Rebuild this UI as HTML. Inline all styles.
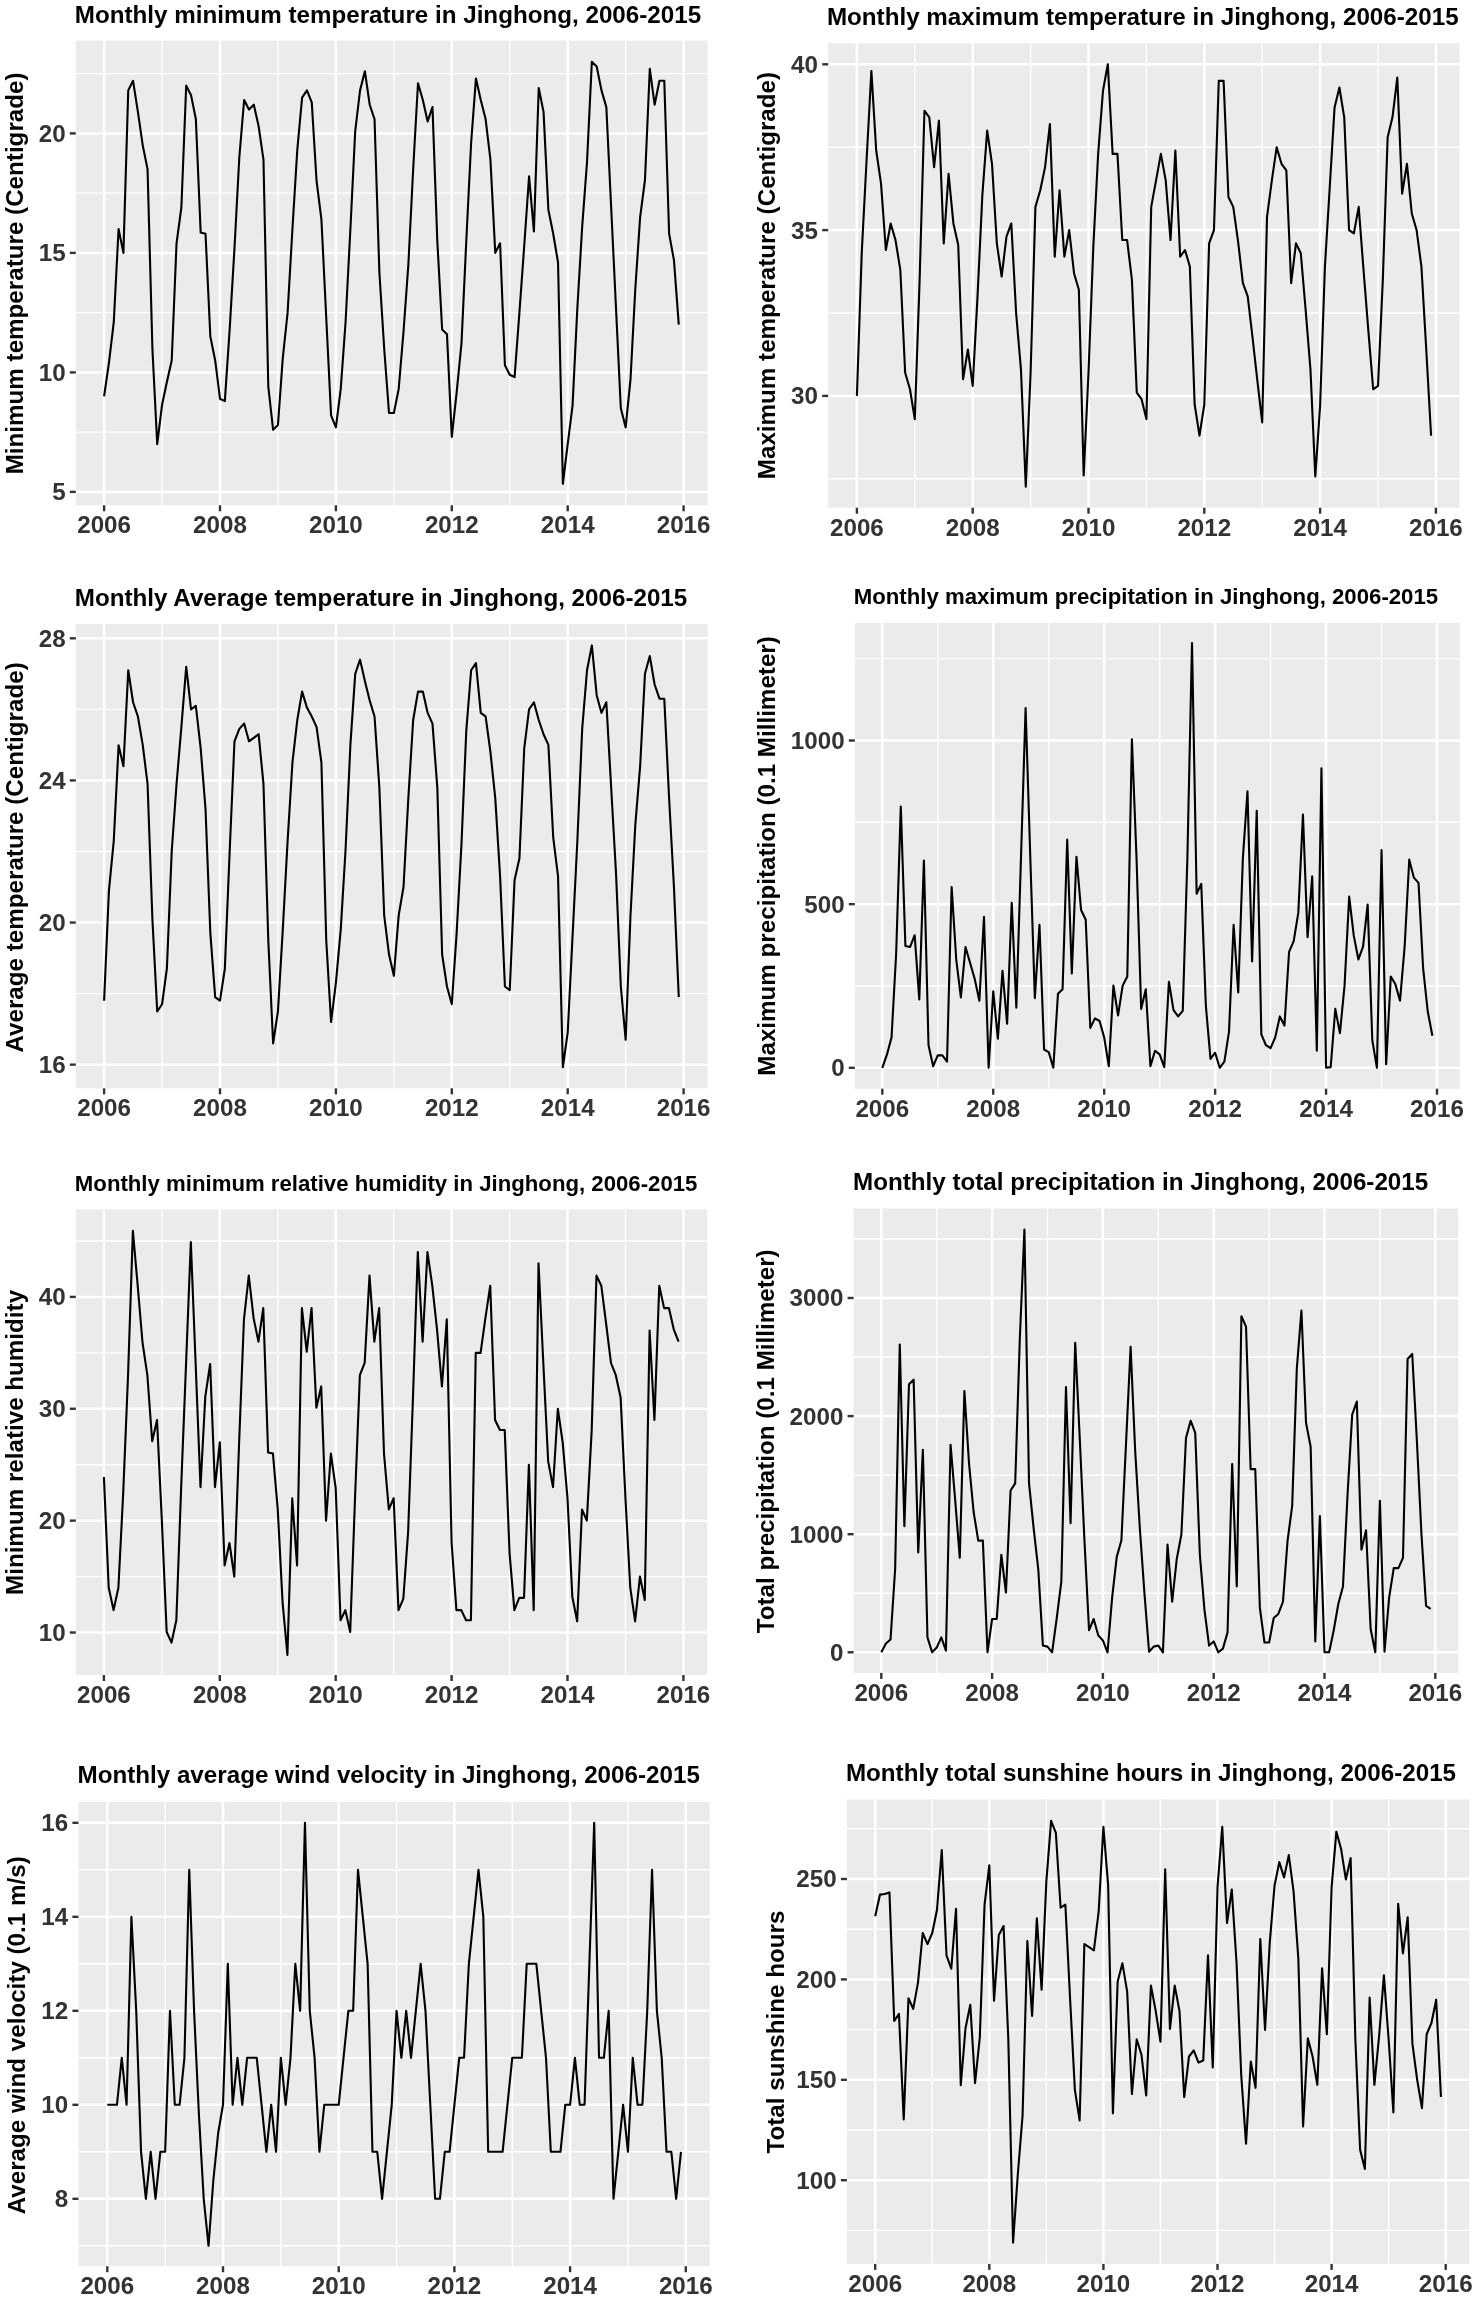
<!DOCTYPE html>
<html><head><meta charset="utf-8"><style>
html,body{margin:0;padding:0;background:#fff;}
svg{display:block;will-change:transform;}
text{font-family:"Liberation Sans",sans-serif;font-weight:bold;}
.tk{font-size:24.2px;fill:#333;}
.ti{fill:#000;}
.yl{font-size:24.2px;fill:#000;}
.gm{stroke:#fff;stroke-width:1.4;}
.gM{stroke:#fff;stroke-width:2.5;}
.tm{stroke:#333;stroke-width:2.4;}
.ln{fill:none;stroke:#000;stroke-width:2.1;stroke-linejoin:round;stroke-linecap:butt;}
</style></head><body>
<svg width="1478" height="2300" viewBox="0 0 1478 2300">
<rect width="1478" height="2300" fill="#fff"/>
<rect x="75.80" y="40.60" width="631.80" height="464.70" fill="#EBEBEB"/>
<line x1="75.80" x2="707.60" y1="432.15" y2="432.15" class="gm"/>
<line x1="75.80" x2="707.60" y1="312.65" y2="312.65" class="gm"/>
<line x1="75.80" x2="707.60" y1="193.15" y2="193.15" class="gm"/>
<line x1="75.80" x2="707.60" y1="73.65" y2="73.65" class="gm"/>
<line x1="162.05" x2="162.05" y1="40.60" y2="505.30" class="gm"/>
<line x1="277.95" x2="277.95" y1="40.60" y2="505.30" class="gm"/>
<line x1="393.85" x2="393.85" y1="40.60" y2="505.30" class="gm"/>
<line x1="509.75" x2="509.75" y1="40.60" y2="505.30" class="gm"/>
<line x1="625.65" x2="625.65" y1="40.60" y2="505.30" class="gm"/>
<line x1="75.80" x2="707.60" y1="491.90" y2="491.90" class="gM"/>
<line x1="75.80" x2="707.60" y1="372.40" y2="372.40" class="gM"/>
<line x1="75.80" x2="707.60" y1="252.90" y2="252.90" class="gM"/>
<line x1="75.80" x2="707.60" y1="133.40" y2="133.40" class="gM"/>
<line x1="104.10" x2="104.10" y1="40.60" y2="505.30" class="gM"/>
<line x1="220.00" x2="220.00" y1="40.60" y2="505.30" class="gM"/>
<line x1="335.90" x2="335.90" y1="40.60" y2="505.30" class="gM"/>
<line x1="451.80" x2="451.80" y1="40.60" y2="505.30" class="gM"/>
<line x1="567.70" x2="567.70" y1="40.60" y2="505.30" class="gM"/>
<line x1="683.60" x2="683.60" y1="40.60" y2="505.30" class="gM"/>
<polyline points="104.10,396.30 108.93,362.84 113.76,322.21 118.59,229.00 123.42,252.90 128.25,90.38 133.07,80.82 137.90,111.89 142.73,145.35 147.56,169.25 152.39,348.50 157.22,444.10 162.05,404.90 166.88,381.96 171.71,360.45 176.54,243.34 181.37,207.49 186.20,85.60 191.03,95.16 195.85,119.06 200.68,232.59 205.51,233.78 210.34,336.55 215.17,360.45 220.00,398.69 224.83,401.08 229.66,329.38 234.49,248.12 239.32,157.30 244.15,99.94 248.97,109.50 253.80,104.72 258.63,126.23 263.46,159.69 268.29,386.74 273.12,429.76 277.95,424.98 282.78,358.06 287.61,312.65 292.44,229.00 297.27,150.13 302.10,97.55 306.93,90.38 311.75,102.33 316.58,181.20 321.41,219.44 326.24,317.43 331.07,415.42 335.90,427.37 340.73,389.13 345.56,322.21 350.39,229.00 355.22,131.01 360.05,90.38 364.88,71.26 369.70,104.72 374.53,119.06 379.36,272.02 384.19,348.50 389.02,413.03 393.85,413.03 398.68,389.13 403.51,331.77 408.34,264.85 413.17,169.25 418.00,83.21 422.83,99.94 427.65,121.45 432.48,107.11 437.31,240.95 442.14,329.38 446.97,334.16 451.80,436.93 456.63,392.72 461.46,343.72 466.29,240.95 471.12,142.96 475.95,78.43 480.77,99.94 485.60,119.06 490.43,159.69 495.26,252.90 500.09,243.34 504.92,365.23 509.75,374.79 514.58,377.18 519.41,312.65 524.24,245.73 529.07,176.42 533.90,231.39 538.73,87.99 543.55,111.89 548.38,209.88 553.21,233.78 558.04,262.46 562.87,483.77 567.70,444.10 572.53,405.86 577.36,307.87 582.19,226.61 587.02,162.08 591.85,61.70 596.68,66.48 601.50,90.38 606.33,107.11 611.16,207.49 615.99,307.87 620.82,408.25 625.65,427.37 630.48,379.57 635.31,288.75 640.14,217.05 644.97,180.00 649.80,68.87 654.62,104.72 659.45,80.82 664.28,80.82 669.11,233.78 673.94,260.07 678.77,324.60" class="ln"/>
<line x1="104.10" x2="104.10" y1="505.30" y2="511.30" class="tm"/>
<text x="104.10" y="533.30" text-anchor="middle" class="tk">2006</text>
<line x1="220.00" x2="220.00" y1="505.30" y2="511.30" class="tm"/>
<text x="220.00" y="533.30" text-anchor="middle" class="tk">2008</text>
<line x1="335.90" x2="335.90" y1="505.30" y2="511.30" class="tm"/>
<text x="335.90" y="533.30" text-anchor="middle" class="tk">2010</text>
<line x1="451.80" x2="451.80" y1="505.30" y2="511.30" class="tm"/>
<text x="451.80" y="533.30" text-anchor="middle" class="tk">2012</text>
<line x1="567.70" x2="567.70" y1="505.30" y2="511.30" class="tm"/>
<text x="567.70" y="533.30" text-anchor="middle" class="tk">2014</text>
<line x1="683.60" x2="683.60" y1="505.30" y2="511.30" class="tm"/>
<text x="683.60" y="533.30" text-anchor="middle" class="tk">2016</text>
<line x1="69.80" x2="75.80" y1="491.90" y2="491.90" class="tm"/>
<text x="65.60" y="500.37" text-anchor="end" class="tk">5</text>
<line x1="69.80" x2="75.80" y1="372.40" y2="372.40" class="tm"/>
<text x="65.60" y="380.87" text-anchor="end" class="tk">10</text>
<line x1="69.80" x2="75.80" y1="252.90" y2="252.90" class="tm"/>
<text x="65.60" y="261.37" text-anchor="end" class="tk">15</text>
<line x1="69.80" x2="75.80" y1="133.40" y2="133.40" class="tm"/>
<text x="65.60" y="141.87" text-anchor="end" class="tk">20</text>
<text x="74.81" y="22.50" class="ti" style="font-size:24.2px">Monthly minimum temperature in Jinghong, 2006-2015</text>
<text transform="translate(22.80,474.29) rotate(-90)" class="yl">Minimum temperature (Centigrade)</text>
<rect x="828.20" y="43.30" width="631.20" height="464.40" fill="#EBEBEB"/>
<line x1="828.20" x2="1459.40" y1="478.80" y2="478.80" class="gm"/>
<line x1="828.20" x2="1459.40" y1="313.00" y2="313.00" class="gm"/>
<line x1="828.20" x2="1459.40" y1="147.20" y2="147.20" class="gm"/>
<line x1="914.80" x2="914.80" y1="43.30" y2="507.70" class="gm"/>
<line x1="1030.60" x2="1030.60" y1="43.30" y2="507.70" class="gm"/>
<line x1="1146.40" x2="1146.40" y1="43.30" y2="507.70" class="gm"/>
<line x1="1262.20" x2="1262.20" y1="43.30" y2="507.70" class="gm"/>
<line x1="1378.00" x2="1378.00" y1="43.30" y2="507.70" class="gm"/>
<line x1="828.20" x2="1459.40" y1="395.90" y2="395.90" class="gM"/>
<line x1="828.20" x2="1459.40" y1="230.10" y2="230.10" class="gM"/>
<line x1="828.20" x2="1459.40" y1="64.30" y2="64.30" class="gM"/>
<line x1="856.90" x2="856.90" y1="43.30" y2="507.70" class="gM"/>
<line x1="972.70" x2="972.70" y1="43.30" y2="507.70" class="gM"/>
<line x1="1088.50" x2="1088.50" y1="43.30" y2="507.70" class="gM"/>
<line x1="1204.30" x2="1204.30" y1="43.30" y2="507.70" class="gM"/>
<line x1="1320.10" x2="1320.10" y1="43.30" y2="507.70" class="gM"/>
<line x1="1435.90" x2="1435.90" y1="43.30" y2="507.70" class="gM"/>
<polyline points="856.90,395.90 861.72,253.31 866.55,160.46 871.38,70.93 876.20,150.52 881.03,183.68 885.85,250.00 890.67,223.47 895.50,240.05 900.32,269.89 905.15,372.69 909.98,389.27 914.80,419.11 919.62,279.84 924.45,110.72 929.27,117.36 934.10,167.10 938.93,120.67 943.75,243.36 948.57,173.73 953.40,223.47 958.23,245.02 963.05,379.32 967.88,349.48 972.70,385.95 977.52,296.42 982.35,195.28 987.17,130.62 992.00,163.78 996.83,243.36 1001.65,276.52 1006.47,236.73 1011.30,223.47 1016.12,313.00 1020.95,369.37 1025.78,486.76 1030.60,372.69 1035.42,206.89 1040.25,190.31 1045.08,167.10 1049.90,123.99 1054.73,256.63 1059.55,190.31 1064.37,256.63 1069.20,230.10 1074.03,273.21 1078.85,289.79 1083.68,475.48 1088.50,372.69 1093.32,246.68 1098.15,153.83 1102.97,90.83 1107.80,64.30 1112.63,153.83 1117.45,153.83 1122.27,240.05 1127.10,240.05 1131.92,279.84 1136.75,392.58 1141.58,399.22 1146.40,419.11 1151.22,206.89 1156.05,180.36 1160.88,153.83 1165.70,180.36 1170.53,240.05 1175.35,150.52 1180.17,256.63 1185.00,250.00 1189.83,266.58 1194.65,404.52 1199.48,435.69 1204.30,404.52 1209.12,243.36 1213.95,230.10 1218.78,80.88 1223.60,80.88 1228.43,196.94 1233.25,206.89 1238.07,241.37 1242.90,283.16 1247.72,296.42 1252.55,337.54 1257.38,380.98 1262.20,422.43 1267.02,216.84 1271.85,180.36 1276.67,147.20 1281.50,163.78 1286.33,170.41 1291.15,283.16 1295.97,243.36 1300.80,253.31 1305.62,309.68 1310.45,369.37 1315.28,476.48 1320.10,405.85 1324.92,266.58 1329.75,186.99 1334.58,107.41 1339.40,87.51 1344.23,117.36 1349.05,230.10 1353.87,233.42 1358.70,206.89 1363.53,269.89 1368.35,330.57 1373.18,389.27 1378.00,385.95 1382.82,279.84 1387.65,137.25 1392.47,117.36 1397.30,77.56 1402.13,193.62 1406.95,163.78 1411.77,213.52 1416.60,230.10 1421.42,266.58 1426.25,349.48 1431.08,435.69" class="ln"/>
<line x1="856.90" x2="856.90" y1="507.70" y2="513.70" class="tm"/>
<text x="856.90" y="535.70" text-anchor="middle" class="tk">2006</text>
<line x1="972.70" x2="972.70" y1="507.70" y2="513.70" class="tm"/>
<text x="972.70" y="535.70" text-anchor="middle" class="tk">2008</text>
<line x1="1088.50" x2="1088.50" y1="507.70" y2="513.70" class="tm"/>
<text x="1088.50" y="535.70" text-anchor="middle" class="tk">2010</text>
<line x1="1204.30" x2="1204.30" y1="507.70" y2="513.70" class="tm"/>
<text x="1204.30" y="535.70" text-anchor="middle" class="tk">2012</text>
<line x1="1320.10" x2="1320.10" y1="507.70" y2="513.70" class="tm"/>
<text x="1320.10" y="535.70" text-anchor="middle" class="tk">2014</text>
<line x1="1435.90" x2="1435.90" y1="507.70" y2="513.70" class="tm"/>
<text x="1435.90" y="535.70" text-anchor="middle" class="tk">2016</text>
<line x1="822.20" x2="828.20" y1="395.90" y2="395.90" class="tm"/>
<text x="818.00" y="404.37" text-anchor="end" class="tk">30</text>
<line x1="822.20" x2="828.20" y1="230.10" y2="230.10" class="tm"/>
<text x="818.00" y="238.57" text-anchor="end" class="tk">35</text>
<line x1="822.20" x2="828.20" y1="64.30" y2="64.30" class="tm"/>
<text x="818.00" y="72.77" text-anchor="end" class="tk">40</text>
<text x="826.91" y="25.30" class="ti" style="font-size:24.2px">Monthly maximum temperature in Jinghong, 2006-2015</text>
<text transform="translate(775.00,479.19) rotate(-90)" class="yl">Maximum temperature (Centigrade)</text>
<rect x="75.80" y="624.10" width="631.80" height="464.20" fill="#EBEBEB"/>
<line x1="75.80" x2="707.60" y1="993.60" y2="993.60" class="gm"/>
<line x1="75.80" x2="707.60" y1="851.48" y2="851.48" class="gm"/>
<line x1="75.80" x2="707.60" y1="709.36" y2="709.36" class="gm"/>
<line x1="162.05" x2="162.05" y1="624.10" y2="1088.30" class="gm"/>
<line x1="277.95" x2="277.95" y1="624.10" y2="1088.30" class="gm"/>
<line x1="393.85" x2="393.85" y1="624.10" y2="1088.30" class="gm"/>
<line x1="509.75" x2="509.75" y1="624.10" y2="1088.30" class="gm"/>
<line x1="625.65" x2="625.65" y1="624.10" y2="1088.30" class="gm"/>
<line x1="75.80" x2="707.60" y1="1064.66" y2="1064.66" class="gM"/>
<line x1="75.80" x2="707.60" y1="922.54" y2="922.54" class="gM"/>
<line x1="75.80" x2="707.60" y1="780.42" y2="780.42" class="gM"/>
<line x1="75.80" x2="707.60" y1="638.30" y2="638.30" class="gM"/>
<line x1="104.10" x2="104.10" y1="624.10" y2="1088.30" class="gM"/>
<line x1="220.00" x2="220.00" y1="624.10" y2="1088.30" class="gM"/>
<line x1="335.90" x2="335.90" y1="624.10" y2="1088.30" class="gM"/>
<line x1="451.80" x2="451.80" y1="624.10" y2="1088.30" class="gM"/>
<line x1="567.70" x2="567.70" y1="624.10" y2="1088.30" class="gM"/>
<line x1="683.60" x2="683.60" y1="624.10" y2="1088.30" class="gM"/>
<polyline points="104.10,1000.71 108.93,890.56 113.76,840.82 118.59,745.25 123.42,766.21 128.25,670.28 133.07,702.25 137.90,716.47 142.73,744.89 147.56,783.97 152.39,918.99 157.22,1011.37 162.05,1004.26 166.88,968.73 171.71,851.48 176.54,783.97 181.37,727.12 186.20,666.72 191.03,709.36 195.85,705.81 200.68,748.44 205.51,808.84 210.34,933.20 215.17,997.15 220.00,1000.71 224.83,968.73 229.66,851.48 234.49,741.34 239.32,728.90 244.15,723.57 248.97,741.34 253.80,737.78 258.63,734.23 263.46,783.97 268.29,940.30 273.12,1043.34 277.95,1011.37 282.78,929.65 287.61,840.82 292.44,762.65 297.27,720.02 302.10,691.59 306.93,707.58 311.75,716.47 316.58,727.12 321.41,762.65 326.24,940.30 331.07,1022.02 335.90,982.94 340.73,929.65 345.56,849.70 350.39,744.89 355.22,673.83 360.05,659.62 364.88,680.94 369.70,700.48 374.53,716.47 379.36,787.53 384.19,915.43 389.02,954.52 393.85,975.84 398.68,915.43 403.51,887.01 408.34,798.18 413.17,720.02 418.00,691.59 422.83,691.59 427.65,712.91 432.48,723.57 437.31,787.53 442.14,954.52 446.97,986.49 451.80,1004.26 456.63,933.20 461.46,844.37 466.29,730.68 471.12,670.28 475.95,663.17 480.77,712.91 485.60,716.47 490.43,752.00 495.26,798.18 500.09,876.35 504.92,986.49 509.75,990.05 514.58,879.90 519.41,858.59 524.24,748.44 529.07,709.36 533.90,702.25 538.73,720.02 543.55,734.23 548.38,744.89 553.21,837.27 558.04,876.35 562.87,1067.15 567.70,1032.68 572.53,936.75 577.36,840.82 582.19,728.90 587.02,670.28 591.85,645.41 596.68,695.15 601.50,712.91 606.33,702.25 611.16,787.53 615.99,872.80 620.82,986.49 625.65,1039.79 630.48,915.43 635.31,824.83 640.14,766.21 644.97,673.83 649.80,656.06 654.62,684.49 659.45,698.70 664.28,698.70 669.11,798.18 673.94,887.01 678.77,997.15" class="ln"/>
<line x1="104.10" x2="104.10" y1="1088.30" y2="1094.30" class="tm"/>
<text x="104.10" y="1116.30" text-anchor="middle" class="tk">2006</text>
<line x1="220.00" x2="220.00" y1="1088.30" y2="1094.30" class="tm"/>
<text x="220.00" y="1116.30" text-anchor="middle" class="tk">2008</text>
<line x1="335.90" x2="335.90" y1="1088.30" y2="1094.30" class="tm"/>
<text x="335.90" y="1116.30" text-anchor="middle" class="tk">2010</text>
<line x1="451.80" x2="451.80" y1="1088.30" y2="1094.30" class="tm"/>
<text x="451.80" y="1116.30" text-anchor="middle" class="tk">2012</text>
<line x1="567.70" x2="567.70" y1="1088.30" y2="1094.30" class="tm"/>
<text x="567.70" y="1116.30" text-anchor="middle" class="tk">2014</text>
<line x1="683.60" x2="683.60" y1="1088.30" y2="1094.30" class="tm"/>
<text x="683.60" y="1116.30" text-anchor="middle" class="tk">2016</text>
<line x1="69.80" x2="75.80" y1="1064.66" y2="1064.66" class="tm"/>
<text x="65.60" y="1073.13" text-anchor="end" class="tk">16</text>
<line x1="69.80" x2="75.80" y1="922.54" y2="922.54" class="tm"/>
<text x="65.60" y="931.01" text-anchor="end" class="tk">20</text>
<line x1="69.80" x2="75.80" y1="780.42" y2="780.42" class="tm"/>
<text x="65.60" y="788.89" text-anchor="end" class="tk">24</text>
<line x1="69.80" x2="75.80" y1="638.30" y2="638.30" class="tm"/>
<text x="65.60" y="646.77" text-anchor="end" class="tk">28</text>
<text x="74.81" y="605.90" class="ti" style="font-size:24.2px">Monthly Average temperature in Jinghong, 2006-2015</text>
<text transform="translate(22.90,1052.53) rotate(-90)" class="yl">Average temperature (Centigrade)</text>
<rect x="854.80" y="622.80" width="605.00" height="465.90" fill="#EBEBEB"/>
<line x1="854.80" x2="1459.80" y1="985.97" y2="985.97" class="gm"/>
<line x1="854.80" x2="1459.80" y1="822.32" y2="822.32" class="gm"/>
<line x1="854.80" x2="1459.80" y1="658.67" y2="658.67" class="gm"/>
<line x1="937.77" x2="937.77" y1="622.80" y2="1088.70" class="gm"/>
<line x1="1048.71" x2="1048.71" y1="622.80" y2="1088.70" class="gm"/>
<line x1="1159.65" x2="1159.65" y1="622.80" y2="1088.70" class="gm"/>
<line x1="1270.59" x2="1270.59" y1="622.80" y2="1088.70" class="gm"/>
<line x1="1381.53" x2="1381.53" y1="622.80" y2="1088.70" class="gm"/>
<line x1="854.80" x2="1459.80" y1="1067.80" y2="1067.80" class="gM"/>
<line x1="854.80" x2="1459.80" y1="904.15" y2="904.15" class="gM"/>
<line x1="854.80" x2="1459.80" y1="740.50" y2="740.50" class="gM"/>
<line x1="882.30" x2="882.30" y1="622.80" y2="1088.70" class="gM"/>
<line x1="993.24" x2="993.24" y1="622.80" y2="1088.70" class="gM"/>
<line x1="1104.18" x2="1104.18" y1="622.80" y2="1088.70" class="gM"/>
<line x1="1215.12" x2="1215.12" y1="622.80" y2="1088.70" class="gM"/>
<line x1="1326.06" x2="1326.06" y1="622.80" y2="1088.70" class="gM"/>
<line x1="1437.00" x2="1437.00" y1="622.80" y2="1088.70" class="gM"/>
<polyline points="882.30,1067.80 886.92,1054.71 891.55,1037.36 896.17,953.25 900.79,806.61 905.41,946.04 910.03,947.03 914.66,935.24 919.28,999.39 923.90,860.62 928.52,1045.22 933.15,1066.16 937.77,1055.36 942.39,1055.36 947.02,1061.58 951.64,887.13 956.26,959.79 960.88,997.43 965.50,947.03 970.13,963.06 974.75,979.10 979.37,1000.70 983.99,916.91 988.62,1067.80 993.24,991.21 997.86,1038.67 1002.49,970.92 1007.11,1023.61 1011.73,902.84 1016.35,1007.58 1020.97,858.33 1025.60,708.10 1030.22,855.05 1034.84,998.09 1039.46,924.77 1044.09,1049.47 1048.71,1052.09 1053.33,1067.80 1057.96,993.83 1062.58,989.25 1067.20,839.67 1071.82,973.54 1076.44,856.69 1081.07,910.04 1085.69,919.53 1090.31,1027.87 1094.93,1018.38 1099.56,1021.00 1104.18,1037.36 1108.80,1066.16 1113.43,985.65 1118.05,1015.43 1122.67,985.65 1127.29,976.48 1131.91,739.19 1136.54,858.33 1141.16,1008.89 1145.78,989.25 1150.40,1066.16 1155.03,1050.78 1159.65,1054.38 1164.27,1067.15 1168.90,981.72 1173.52,1010.20 1178.14,1016.41 1182.76,1010.85 1187.38,858.33 1192.01,642.96 1196.63,893.68 1201.25,883.86 1205.87,1005.94 1210.50,1058.96 1215.12,1052.74 1219.74,1067.80 1224.37,1061.58 1228.99,1031.80 1233.61,924.77 1238.23,992.52 1242.86,858.33 1247.48,791.23 1252.10,961.43 1256.72,810.87 1261.34,1034.42 1265.97,1045.22 1270.59,1048.16 1275.21,1037.36 1279.84,1016.41 1284.46,1025.58 1289.08,951.94 1293.70,941.13 1298.32,912.66 1302.95,814.47 1307.57,937.21 1312.19,876.33 1316.81,1050.78 1321.44,768.32 1326.06,1067.80 1330.68,1067.15 1335.31,1008.89 1339.93,1033.11 1344.55,985.65 1349.17,896.62 1353.80,935.90 1358.42,959.46 1363.04,946.70 1367.66,904.48 1372.28,1039.98 1376.91,1067.80 1381.53,850.15 1386.15,1064.20 1390.78,976.48 1395.40,984.34 1400.02,1000.70 1404.64,946.70 1409.26,859.64 1413.89,877.64 1418.51,882.88 1423.13,968.30 1427.75,1011.50 1432.38,1035.72" class="ln"/>
<line x1="882.30" x2="882.30" y1="1088.70" y2="1094.70" class="tm"/>
<text x="882.30" y="1116.70" text-anchor="middle" class="tk">2006</text>
<line x1="993.24" x2="993.24" y1="1088.70" y2="1094.70" class="tm"/>
<text x="993.24" y="1116.70" text-anchor="middle" class="tk">2008</text>
<line x1="1104.18" x2="1104.18" y1="1088.70" y2="1094.70" class="tm"/>
<text x="1104.18" y="1116.70" text-anchor="middle" class="tk">2010</text>
<line x1="1215.12" x2="1215.12" y1="1088.70" y2="1094.70" class="tm"/>
<text x="1215.12" y="1116.70" text-anchor="middle" class="tk">2012</text>
<line x1="1326.06" x2="1326.06" y1="1088.70" y2="1094.70" class="tm"/>
<text x="1326.06" y="1116.70" text-anchor="middle" class="tk">2014</text>
<line x1="1437.00" x2="1437.00" y1="1088.70" y2="1094.70" class="tm"/>
<text x="1437.00" y="1116.70" text-anchor="middle" class="tk">2016</text>
<line x1="848.80" x2="854.80" y1="1067.80" y2="1067.80" class="tm"/>
<text x="844.60" y="1076.27" text-anchor="end" class="tk">0</text>
<line x1="848.80" x2="854.80" y1="904.15" y2="904.15" class="tm"/>
<text x="844.60" y="912.62" text-anchor="end" class="tk">500</text>
<line x1="848.80" x2="854.80" y1="740.50" y2="740.50" class="tm"/>
<text x="844.60" y="748.97" text-anchor="end" class="tk">1000</text>
<text x="853.75" y="604.40" class="ti" style="font-size:22.2px">Monthly maximum precipitation in Jinghong, 2006-2015</text>
<text transform="translate(775.00,1075.69) rotate(-90)" class="yl">Maximum precipitation (0.1 Millimeter)</text>
<rect x="75.80" y="1209.50" width="631.40" height="465.50" fill="#EBEBEB"/>
<line x1="75.80" x2="707.20" y1="1576.58" y2="1576.58" class="gm"/>
<line x1="75.80" x2="707.20" y1="1464.71" y2="1464.71" class="gm"/>
<line x1="75.80" x2="707.20" y1="1352.84" y2="1352.84" class="gm"/>
<line x1="75.80" x2="707.20" y1="1240.97" y2="1240.97" class="gm"/>
<line x1="161.85" x2="161.85" y1="1209.50" y2="1675.00" class="gm"/>
<line x1="277.75" x2="277.75" y1="1209.50" y2="1675.00" class="gm"/>
<line x1="393.65" x2="393.65" y1="1209.50" y2="1675.00" class="gm"/>
<line x1="509.55" x2="509.55" y1="1209.50" y2="1675.00" class="gm"/>
<line x1="625.45" x2="625.45" y1="1209.50" y2="1675.00" class="gm"/>
<line x1="75.80" x2="707.20" y1="1632.51" y2="1632.51" class="gM"/>
<line x1="75.80" x2="707.20" y1="1520.64" y2="1520.64" class="gM"/>
<line x1="75.80" x2="707.20" y1="1408.77" y2="1408.77" class="gM"/>
<line x1="75.80" x2="707.20" y1="1296.90" y2="1296.90" class="gM"/>
<line x1="103.90" x2="103.90" y1="1209.50" y2="1675.00" class="gM"/>
<line x1="219.80" x2="219.80" y1="1209.50" y2="1675.00" class="gM"/>
<line x1="335.70" x2="335.70" y1="1209.50" y2="1675.00" class="gM"/>
<line x1="451.60" x2="451.60" y1="1209.50" y2="1675.00" class="gM"/>
<line x1="567.50" x2="567.50" y1="1209.50" y2="1675.00" class="gM"/>
<line x1="683.40" x2="683.40" y1="1209.50" y2="1675.00" class="gM"/>
<polyline points="103.90,1477.01 108.73,1587.76 113.56,1610.14 118.39,1587.76 123.22,1492.67 128.05,1375.21 132.88,1230.90 137.70,1285.71 142.53,1342.77 147.36,1375.21 152.19,1441.21 157.02,1419.96 161.85,1520.64 166.68,1631.95 171.51,1642.58 176.34,1620.20 181.17,1487.08 186.00,1365.14 190.83,1242.08 195.65,1364.02 200.48,1487.08 205.31,1396.46 210.14,1364.02 214.97,1487.08 219.80,1442.33 224.63,1565.39 229.46,1543.01 234.29,1576.58 239.12,1442.33 243.95,1319.27 248.78,1275.64 253.60,1318.16 258.43,1341.65 263.26,1308.09 268.09,1452.40 272.92,1453.52 277.75,1509.45 282.58,1602.31 287.41,1654.88 292.24,1498.27 297.07,1565.39 301.90,1308.09 306.73,1351.72 311.55,1308.09 316.38,1407.65 321.21,1386.40 326.04,1520.64 330.87,1453.52 335.70,1488.20 340.53,1620.20 345.36,1610.14 350.19,1631.95 355.02,1498.27 359.85,1375.21 364.68,1362.90 369.50,1275.64 374.33,1341.65 379.16,1308.09 383.99,1453.52 388.82,1509.45 393.65,1498.27 398.48,1610.14 403.31,1598.95 408.14,1531.83 412.97,1397.58 417.80,1252.15 422.62,1341.65 427.45,1252.15 432.28,1285.71 437.11,1330.46 441.94,1386.40 446.77,1319.27 451.60,1543.01 456.43,1610.14 461.26,1610.14 466.09,1620.20 470.92,1620.20 475.75,1352.84 480.58,1352.84 485.40,1318.16 490.23,1285.71 495.06,1419.96 499.89,1430.03 504.72,1430.03 509.55,1553.08 514.38,1610.14 519.21,1597.83 524.04,1597.83 528.87,1464.71 533.70,1610.14 538.52,1263.34 543.35,1364.02 548.18,1461.35 553.01,1487.08 557.84,1408.77 562.67,1442.33 567.50,1498.27 572.33,1596.71 577.16,1621.32 581.99,1509.45 586.82,1520.64 591.65,1431.14 596.48,1275.64 601.30,1285.71 606.13,1323.75 610.96,1362.90 615.79,1375.21 620.62,1397.58 625.45,1498.27 630.28,1587.76 635.11,1621.32 639.94,1576.58 644.77,1600.07 649.60,1330.46 654.42,1419.96 659.25,1285.71 664.08,1308.09 668.91,1308.09 673.74,1329.34 678.57,1341.65" class="ln"/>
<line x1="103.90" x2="103.90" y1="1675.00" y2="1681.00" class="tm"/>
<text x="103.90" y="1703.00" text-anchor="middle" class="tk">2006</text>
<line x1="219.80" x2="219.80" y1="1675.00" y2="1681.00" class="tm"/>
<text x="219.80" y="1703.00" text-anchor="middle" class="tk">2008</text>
<line x1="335.70" x2="335.70" y1="1675.00" y2="1681.00" class="tm"/>
<text x="335.70" y="1703.00" text-anchor="middle" class="tk">2010</text>
<line x1="451.60" x2="451.60" y1="1675.00" y2="1681.00" class="tm"/>
<text x="451.60" y="1703.00" text-anchor="middle" class="tk">2012</text>
<line x1="567.50" x2="567.50" y1="1675.00" y2="1681.00" class="tm"/>
<text x="567.50" y="1703.00" text-anchor="middle" class="tk">2014</text>
<line x1="683.40" x2="683.40" y1="1675.00" y2="1681.00" class="tm"/>
<text x="683.40" y="1703.00" text-anchor="middle" class="tk">2016</text>
<line x1="69.80" x2="75.80" y1="1632.51" y2="1632.51" class="tm"/>
<text x="65.60" y="1640.98" text-anchor="end" class="tk">10</text>
<line x1="69.80" x2="75.80" y1="1520.64" y2="1520.64" class="tm"/>
<text x="65.60" y="1529.11" text-anchor="end" class="tk">20</text>
<line x1="69.80" x2="75.80" y1="1408.77" y2="1408.77" class="tm"/>
<text x="65.60" y="1417.24" text-anchor="end" class="tk">30</text>
<line x1="69.80" x2="75.80" y1="1296.90" y2="1296.90" class="tm"/>
<text x="65.60" y="1305.37" text-anchor="end" class="tk">40</text>
<text x="74.85" y="1190.70" class="ti" style="font-size:22.2px">Monthly minimum relative humidity in Jinghong, 2006-2015</text>
<text transform="translate(22.50,1594.99) rotate(-90)" class="yl">Minimum relative humidity</text>
<rect x="853.60" y="1208.50" width="604.60" height="464.40" fill="#EBEBEB"/>
<line x1="853.60" x2="1458.20" y1="1593.25" y2="1593.25" class="gm"/>
<line x1="853.60" x2="1458.20" y1="1475.15" y2="1475.15" class="gm"/>
<line x1="853.60" x2="1458.20" y1="1357.05" y2="1357.05" class="gm"/>
<line x1="853.60" x2="1458.20" y1="1238.95" y2="1238.95" class="gm"/>
<line x1="936.70" x2="936.70" y1="1208.50" y2="1672.90" class="gm"/>
<line x1="1047.50" x2="1047.50" y1="1208.50" y2="1672.90" class="gm"/>
<line x1="1158.30" x2="1158.30" y1="1208.50" y2="1672.90" class="gm"/>
<line x1="1269.10" x2="1269.10" y1="1208.50" y2="1672.90" class="gm"/>
<line x1="1379.90" x2="1379.90" y1="1208.50" y2="1672.90" class="gm"/>
<line x1="853.60" x2="1458.20" y1="1652.30" y2="1652.30" class="gM"/>
<line x1="853.60" x2="1458.20" y1="1534.20" y2="1534.20" class="gM"/>
<line x1="853.60" x2="1458.20" y1="1416.10" y2="1416.10" class="gM"/>
<line x1="853.60" x2="1458.20" y1="1298.00" y2="1298.00" class="gM"/>
<line x1="881.30" x2="881.30" y1="1208.50" y2="1672.90" class="gM"/>
<line x1="992.10" x2="992.10" y1="1208.50" y2="1672.90" class="gM"/>
<line x1="1102.90" x2="1102.90" y1="1208.50" y2="1672.90" class="gM"/>
<line x1="1213.70" x2="1213.70" y1="1208.50" y2="1672.90" class="gM"/>
<line x1="1324.50" x2="1324.50" y1="1208.50" y2="1672.90" class="gM"/>
<line x1="1435.30" x2="1435.30" y1="1208.50" y2="1672.90" class="gM"/>
<polyline points="881.30,1652.30 885.92,1643.56 890.53,1639.43 895.15,1569.04 899.77,1344.53 904.38,1526.29 909.00,1384.33 913.62,1379.73 918.23,1552.39 922.85,1449.76 927.47,1637.42 932.08,1652.30 936.70,1647.58 941.32,1637.42 945.93,1650.65 950.55,1444.68 955.17,1499.95 959.78,1557.82 964.40,1391.06 969.02,1463.34 973.63,1512.00 978.25,1540.58 982.87,1540.58 987.48,1652.30 992.10,1619.00 996.72,1619.00 1001.33,1554.75 1005.95,1592.54 1010.57,1490.50 1015.18,1483.42 1019.80,1339.34 1024.42,1229.62 1029.03,1483.42 1033.65,1528.30 1038.27,1569.04 1042.88,1645.57 1047.50,1646.63 1052.12,1652.30 1056.73,1618.05 1061.35,1581.32 1065.97,1386.93 1070.58,1523.22 1075.20,1342.88 1079.82,1439.72 1084.43,1540.11 1089.05,1630.22 1093.67,1619.00 1098.28,1635.41 1102.90,1640.49 1107.52,1652.30 1112.13,1597.62 1116.75,1556.88 1121.37,1540.58 1125.98,1444.44 1130.60,1346.89 1135.22,1451.53 1139.83,1528.30 1144.45,1593.25 1149.07,1651.71 1153.68,1646.63 1158.30,1645.57 1162.92,1652.30 1167.53,1544.59 1172.15,1601.75 1176.77,1558.88 1181.38,1534.44 1186.00,1437.95 1190.62,1420.71 1195.23,1432.87 1199.85,1554.75 1204.47,1609.90 1209.08,1645.57 1213.70,1641.43 1218.32,1652.30 1222.93,1648.64 1227.55,1632.34 1232.17,1464.05 1236.78,1586.40 1241.40,1316.19 1246.02,1326.70 1250.63,1469.13 1255.25,1469.13 1259.87,1607.89 1264.48,1642.50 1269.10,1642.50 1273.72,1618.05 1278.33,1613.92 1282.95,1601.75 1287.57,1540.58 1292.18,1505.86 1296.80,1368.86 1301.42,1310.52 1306.03,1422.83 1310.65,1446.69 1315.27,1641.43 1319.88,1516.01 1324.50,1652.30 1329.12,1652.30 1333.73,1630.22 1338.35,1603.76 1342.97,1586.40 1347.58,1494.05 1352.20,1414.68 1356.82,1401.57 1361.43,1549.67 1366.05,1530.30 1370.67,1629.27 1375.28,1652.30 1379.90,1500.78 1384.52,1651.71 1389.13,1597.62 1393.75,1568.09 1398.37,1568.09 1402.98,1557.82 1407.60,1359.06 1412.22,1353.98 1416.83,1439.72 1421.45,1534.20 1426.07,1605.77 1430.68,1608.84" class="ln"/>
<line x1="881.30" x2="881.30" y1="1672.90" y2="1678.90" class="tm"/>
<text x="881.30" y="1700.90" text-anchor="middle" class="tk">2006</text>
<line x1="992.10" x2="992.10" y1="1672.90" y2="1678.90" class="tm"/>
<text x="992.10" y="1700.90" text-anchor="middle" class="tk">2008</text>
<line x1="1102.90" x2="1102.90" y1="1672.90" y2="1678.90" class="tm"/>
<text x="1102.90" y="1700.90" text-anchor="middle" class="tk">2010</text>
<line x1="1213.70" x2="1213.70" y1="1672.90" y2="1678.90" class="tm"/>
<text x="1213.70" y="1700.90" text-anchor="middle" class="tk">2012</text>
<line x1="1324.50" x2="1324.50" y1="1672.90" y2="1678.90" class="tm"/>
<text x="1324.50" y="1700.90" text-anchor="middle" class="tk">2014</text>
<line x1="1435.30" x2="1435.30" y1="1672.90" y2="1678.90" class="tm"/>
<text x="1435.30" y="1700.90" text-anchor="middle" class="tk">2016</text>
<line x1="847.60" x2="853.60" y1="1652.30" y2="1652.30" class="tm"/>
<text x="843.40" y="1660.77" text-anchor="end" class="tk">0</text>
<line x1="847.60" x2="853.60" y1="1534.20" y2="1534.20" class="tm"/>
<text x="843.40" y="1542.67" text-anchor="end" class="tk">1000</text>
<line x1="847.60" x2="853.60" y1="1416.10" y2="1416.10" class="tm"/>
<text x="843.40" y="1424.57" text-anchor="end" class="tk">2000</text>
<line x1="847.60" x2="853.60" y1="1298.00" y2="1298.00" class="tm"/>
<text x="843.40" y="1306.47" text-anchor="end" class="tk">3000</text>
<text x="853.01" y="1189.80" class="ti" style="font-size:24.2px">Monthly total precipitation in Jinghong, 2006-2015</text>
<text transform="translate(773.70,1633.24) rotate(-90)" class="yl">Total precipitation (0.1 Millimeter)</text>
<rect x="78.40" y="1802.00" width="631.30" height="464.20" fill="#EBEBEB"/>
<line x1="78.40" x2="709.70" y1="2245.80" y2="2245.80" class="gm"/>
<line x1="78.40" x2="709.70" y1="2151.80" y2="2151.80" class="gm"/>
<line x1="78.40" x2="709.70" y1="2057.80" y2="2057.80" class="gm"/>
<line x1="78.40" x2="709.70" y1="1963.80" y2="1963.80" class="gm"/>
<line x1="78.40" x2="709.70" y1="1869.80" y2="1869.80" class="gm"/>
<line x1="165.15" x2="165.15" y1="1802.00" y2="2266.20" class="gm"/>
<line x1="280.85" x2="280.85" y1="1802.00" y2="2266.20" class="gm"/>
<line x1="396.55" x2="396.55" y1="1802.00" y2="2266.20" class="gm"/>
<line x1="512.25" x2="512.25" y1="1802.00" y2="2266.20" class="gm"/>
<line x1="627.95" x2="627.95" y1="1802.00" y2="2266.20" class="gm"/>
<line x1="78.40" x2="709.70" y1="2198.80" y2="2198.80" class="gM"/>
<line x1="78.40" x2="709.70" y1="2104.80" y2="2104.80" class="gM"/>
<line x1="78.40" x2="709.70" y1="2010.80" y2="2010.80" class="gM"/>
<line x1="78.40" x2="709.70" y1="1916.80" y2="1916.80" class="gM"/>
<line x1="78.40" x2="709.70" y1="1822.80" y2="1822.80" class="gM"/>
<line x1="107.30" x2="107.30" y1="1802.00" y2="2266.20" class="gM"/>
<line x1="223.00" x2="223.00" y1="1802.00" y2="2266.20" class="gM"/>
<line x1="338.70" x2="338.70" y1="1802.00" y2="2266.20" class="gM"/>
<line x1="454.40" x2="454.40" y1="1802.00" y2="2266.20" class="gM"/>
<line x1="570.10" x2="570.10" y1="1802.00" y2="2266.20" class="gM"/>
<line x1="685.80" x2="685.80" y1="1802.00" y2="2266.20" class="gM"/>
<polyline points="107.30,2104.80 112.12,2104.80 116.94,2104.80 121.76,2057.80 126.58,2104.80 131.40,1916.80 136.22,2010.80 141.05,2151.80 145.87,2198.80 150.69,2151.80 155.51,2198.80 160.33,2151.80 165.15,2151.80 169.97,2010.80 174.79,2104.80 179.61,2104.80 184.43,2057.80 189.25,1869.80 194.07,2010.80 198.90,2114.20 203.72,2198.80 208.54,2245.80 213.36,2180.00 218.18,2133.00 223.00,2104.80 227.82,1963.80 232.64,2104.80 237.46,2057.80 242.28,2104.80 247.10,2057.80 251.93,2057.80 256.75,2057.80 261.57,2104.80 266.39,2151.80 271.21,2104.80 276.03,2151.80 280.85,2057.80 285.67,2104.80 290.49,2057.80 295.31,1963.80 300.13,2010.80 304.95,1822.80 309.77,2010.80 314.60,2057.80 319.42,2151.80 324.24,2104.80 329.06,2104.80 333.88,2104.80 338.70,2104.80 343.52,2057.80 348.34,2010.80 353.16,2010.80 357.98,1869.80 362.80,1916.80 367.62,1963.80 372.45,2151.80 377.27,2151.80 382.09,2198.80 386.91,2151.80 391.73,2104.80 396.55,2010.80 401.37,2057.80 406.19,2010.80 411.01,2057.80 415.83,2010.80 420.65,1963.80 425.48,2010.80 430.30,2104.80 435.12,2198.80 439.94,2198.80 444.76,2151.80 449.58,2151.80 454.40,2104.80 459.22,2057.80 464.04,2057.80 468.86,1963.80 473.68,1916.80 478.50,1869.80 483.33,1916.80 488.15,2151.80 492.97,2151.80 497.79,2151.80 502.61,2151.80 507.43,2104.80 512.25,2057.80 517.07,2057.80 521.89,2057.80 526.71,1963.80 531.53,1963.80 536.35,1963.80 541.17,2010.80 546.00,2057.80 550.82,2151.80 555.64,2151.80 560.46,2151.80 565.28,2104.80 570.10,2104.80 574.92,2057.80 579.74,2104.80 584.56,2104.80 589.38,1963.80 594.20,1822.80 599.02,2057.80 603.85,2057.80 608.67,2010.80 613.49,2198.80 618.31,2151.80 623.13,2104.80 627.95,2151.80 632.77,2057.80 637.59,2104.80 642.41,2104.80 647.23,2010.80 652.05,1869.80 656.88,2010.80 661.70,2057.80 666.52,2151.80 671.34,2151.80 676.16,2198.80 680.98,2151.80" class="ln"/>
<line x1="107.30" x2="107.30" y1="2266.20" y2="2272.20" class="tm"/>
<text x="107.30" y="2294.20" text-anchor="middle" class="tk">2006</text>
<line x1="223.00" x2="223.00" y1="2266.20" y2="2272.20" class="tm"/>
<text x="223.00" y="2294.20" text-anchor="middle" class="tk">2008</text>
<line x1="338.70" x2="338.70" y1="2266.20" y2="2272.20" class="tm"/>
<text x="338.70" y="2294.20" text-anchor="middle" class="tk">2010</text>
<line x1="454.40" x2="454.40" y1="2266.20" y2="2272.20" class="tm"/>
<text x="454.40" y="2294.20" text-anchor="middle" class="tk">2012</text>
<line x1="570.10" x2="570.10" y1="2266.20" y2="2272.20" class="tm"/>
<text x="570.10" y="2294.20" text-anchor="middle" class="tk">2014</text>
<line x1="685.80" x2="685.80" y1="2266.20" y2="2272.20" class="tm"/>
<text x="685.80" y="2294.20" text-anchor="middle" class="tk">2016</text>
<line x1="72.40" x2="78.40" y1="2198.80" y2="2198.80" class="tm"/>
<text x="68.20" y="2207.27" text-anchor="end" class="tk">8</text>
<line x1="72.40" x2="78.40" y1="2104.80" y2="2104.80" class="tm"/>
<text x="68.20" y="2113.27" text-anchor="end" class="tk">10</text>
<line x1="72.40" x2="78.40" y1="2010.80" y2="2010.80" class="tm"/>
<text x="68.20" y="2019.27" text-anchor="end" class="tk">12</text>
<line x1="72.40" x2="78.40" y1="1916.80" y2="1916.80" class="tm"/>
<text x="68.20" y="1925.27" text-anchor="end" class="tk">14</text>
<line x1="72.40" x2="78.40" y1="1822.80" y2="1822.80" class="tm"/>
<text x="68.20" y="1831.27" text-anchor="end" class="tk">16</text>
<text x="77.51" y="1783.10" class="ti" style="font-size:24.2px">Monthly average wind velocity in Jinghong, 2006-2015</text>
<text transform="translate(25.40,2214.33) rotate(-90)" class="yl">Average wind velocity (0.1 m/s)</text>
<rect x="846.90" y="1799.50" width="622.30" height="464.40" fill="#EBEBEB"/>
<line x1="846.90" x2="1469.20" y1="2230.40" y2="2230.40" class="gm"/>
<line x1="846.90" x2="1469.20" y1="2130.00" y2="2130.00" class="gm"/>
<line x1="846.90" x2="1469.20" y1="2029.60" y2="2029.60" class="gm"/>
<line x1="846.90" x2="1469.20" y1="1929.20" y2="1929.20" class="gm"/>
<line x1="846.90" x2="1469.20" y1="1828.80" y2="1828.80" class="gm"/>
<line x1="932.25" x2="932.25" y1="1799.50" y2="2263.90" class="gm"/>
<line x1="1046.35" x2="1046.35" y1="1799.50" y2="2263.90" class="gm"/>
<line x1="1160.45" x2="1160.45" y1="1799.50" y2="2263.90" class="gm"/>
<line x1="1274.55" x2="1274.55" y1="1799.50" y2="2263.90" class="gm"/>
<line x1="1388.65" x2="1388.65" y1="1799.50" y2="2263.90" class="gm"/>
<line x1="846.90" x2="1469.20" y1="2180.20" y2="2180.20" class="gM"/>
<line x1="846.90" x2="1469.20" y1="2079.80" y2="2079.80" class="gM"/>
<line x1="846.90" x2="1469.20" y1="1979.40" y2="1979.40" class="gM"/>
<line x1="846.90" x2="1469.20" y1="1879.00" y2="1879.00" class="gM"/>
<line x1="875.20" x2="875.20" y1="1799.50" y2="2263.90" class="gM"/>
<line x1="989.30" x2="989.30" y1="1799.50" y2="2263.90" class="gM"/>
<line x1="1103.40" x2="1103.40" y1="1799.50" y2="2263.90" class="gM"/>
<line x1="1217.50" x2="1217.50" y1="1799.50" y2="2263.90" class="gM"/>
<line x1="1331.60" x2="1331.60" y1="1799.50" y2="2263.90" class="gM"/>
<line x1="1445.70" x2="1445.70" y1="1799.50" y2="2263.90" class="gM"/>
<polyline points="875.20,1916.15 879.95,1894.66 884.71,1894.06 889.46,1892.45 894.22,2020.97 898.97,2013.94 903.73,2119.36 908.48,1998.28 913.23,2008.92 917.99,1982.61 922.74,1933.02 927.50,1944.06 932.25,1933.02 937.00,1909.72 941.76,1850.08 946.51,1955.30 951.27,1968.76 956.02,1908.72 960.78,2085.22 965.53,2027.99 970.28,2004.70 975.04,2083.21 979.79,2037.63 984.55,1904.70 989.30,1865.35 994.05,2000.68 998.81,1935.02 1003.56,1925.99 1008.32,2039.64 1013.07,2242.65 1017.83,2174.18 1022.58,2115.34 1027.33,1941.05 1032.09,2015.95 1036.84,1918.36 1041.60,1989.64 1046.35,1881.41 1051.10,1820.77 1055.86,1832.82 1060.61,1907.71 1065.37,1904.70 1070.12,1999.48 1074.88,2089.84 1079.63,2120.36 1084.38,1944.06 1089.14,1947.07 1093.89,1950.48 1098.65,1911.73 1103.40,1826.79 1108.15,1885.43 1112.91,2113.33 1117.66,1981.61 1122.42,1963.34 1127.17,1991.65 1131.92,2094.06 1136.68,2039.24 1141.43,2054.50 1146.19,2095.46 1150.94,1985.62 1155.70,2010.93 1160.45,2041.65 1165.20,1869.36 1169.96,2029.00 1174.71,1985.62 1179.47,2010.93 1184.22,2097.07 1188.97,2056.51 1193.73,2050.48 1198.48,2062.53 1203.24,2060.52 1207.99,1955.30 1212.75,2067.55 1217.50,1887.43 1222.25,1826.79 1227.01,1922.98 1231.76,1889.44 1236.52,1962.33 1241.27,2075.78 1246.03,2143.65 1250.78,2061.53 1255.53,2087.83 1260.29,1939.04 1265.04,2030.00 1269.80,1942.05 1274.55,1885.43 1279.30,1862.13 1284.06,1877.39 1288.81,1855.10 1293.57,1891.45 1298.32,1958.32 1303.08,2126.39 1307.83,2038.23 1312.58,2056.51 1317.34,2084.82 1322.09,1968.36 1326.85,2034.22 1331.60,1887.43 1336.35,1831.81 1341.11,1849.08 1345.86,1879.40 1350.62,1858.12 1355.37,2039.64 1360.12,2149.68 1364.88,2168.96 1369.63,1997.67 1374.39,2084.82 1379.14,2035.62 1383.90,1975.38 1388.65,2039.64 1393.40,2112.33 1398.16,1903.70 1402.91,1953.30 1407.67,1917.35 1412.42,2043.66 1417.18,2079.80 1421.93,2108.11 1426.68,2034.22 1431.44,2022.97 1436.19,1999.68 1440.95,2097.07" class="ln"/>
<line x1="875.20" x2="875.20" y1="2263.90" y2="2269.90" class="tm"/>
<text x="875.20" y="2291.90" text-anchor="middle" class="tk">2006</text>
<line x1="989.30" x2="989.30" y1="2263.90" y2="2269.90" class="tm"/>
<text x="989.30" y="2291.90" text-anchor="middle" class="tk">2008</text>
<line x1="1103.40" x2="1103.40" y1="2263.90" y2="2269.90" class="tm"/>
<text x="1103.40" y="2291.90" text-anchor="middle" class="tk">2010</text>
<line x1="1217.50" x2="1217.50" y1="2263.90" y2="2269.90" class="tm"/>
<text x="1217.50" y="2291.90" text-anchor="middle" class="tk">2012</text>
<line x1="1331.60" x2="1331.60" y1="2263.90" y2="2269.90" class="tm"/>
<text x="1331.60" y="2291.90" text-anchor="middle" class="tk">2014</text>
<line x1="1445.70" x2="1445.70" y1="2263.90" y2="2269.90" class="tm"/>
<text x="1445.70" y="2291.90" text-anchor="middle" class="tk">2016</text>
<line x1="840.90" x2="846.90" y1="2180.20" y2="2180.20" class="tm"/>
<text x="836.70" y="2188.67" text-anchor="end" class="tk">100</text>
<line x1="840.90" x2="846.90" y1="2079.80" y2="2079.80" class="tm"/>
<text x="836.70" y="2088.27" text-anchor="end" class="tk">150</text>
<line x1="840.90" x2="846.90" y1="1979.40" y2="1979.40" class="tm"/>
<text x="836.70" y="1987.87" text-anchor="end" class="tk">200</text>
<line x1="840.90" x2="846.90" y1="1879.00" y2="1879.00" class="tm"/>
<text x="836.70" y="1887.47" text-anchor="end" class="tk">250</text>
<text x="845.91" y="1780.80" class="ti" style="font-size:24.2px">Monthly total sunshine hours in Jinghong, 2006-2015</text>
<text transform="translate(784.40,2153.44) rotate(-90)" class="yl">Total sunshine hours</text>
</svg>
</body></html>
